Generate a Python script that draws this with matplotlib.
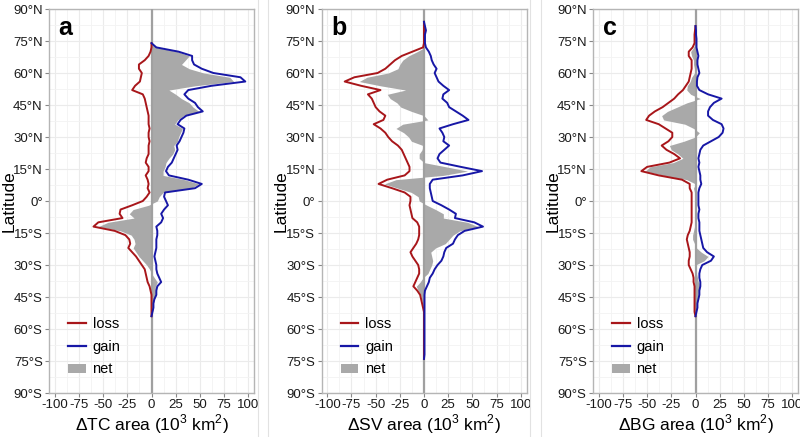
import matplotlib

matplotlib.use("Agg")
import matplotlib.pyplot as plt
import numpy as np
from matplotlib.lines import Line2D
from matplotlib.patches import Patch

plt.rcParams["font.family"] = ["Liberation Sans", "DejaVu Sans"]
plt.rcParams["mathtext.fontset"] = "custom"
plt.rcParams["mathtext.rm"] = "Liberation Sans"

# %%
# Data (10^3 km^2 per latitude band)

tc_lat = np.arange(74, -56, -2)
tc_gain = [0, 5, 28, 42, 42, 44, 52, 64, 92, 97, 62, 38, 34, 38, 45, 48, 53, 36, 30, 27,
           34, 33, 31, 29, 26, 27, 25, 23, 21, 17, 15, 18, 38, 52, 45, 14, 13, 15, 17, 13,
           10, 12, 10, 5, 6, 6, 5, 5, 5, 4, 3, 4, 5, 5, 6, 8, 10, 6, 5, 5, 3, 2, 2, 1, 0]
tc_loss = [0, 0, -1, -3, -7, -13, -13, -10, -11, -12, -17, -20, -9, -7, -6, -5, -4, -3, -3, -3,
           -2, -3, -3, -2, -3, -3, -3, -5, -6, -3, -3, -6, -4, -3, -4, -2, -5, -9, -20, -32,
           -33, -30, -55, -60, -38, -27, -23, -22, -24, -20, -16, -13, -10, -7, -6, -5, -4, -2, -1, 0,
           0, 0, 0, 0, 0]

sv_lat = np.arange(84, -76, -2)
sv_gain = [0, 1, 2, 1, 1, 1, 2, 5, 7, 8, 10, 13, 11, 13, 15, 20, 26, 20, 19, 24,
           26, 33, 40, 46, 30, 16, 19, 21, 20, 26, 21, 16, 14, 17, 38, 60, 40, 9, 6, 6,
           7, 8, 9, 18, 26, 33, 32, 52, 61, 42, 35, 32, 30, 23, 21, 20, 18, 14, 11, 9,
           6, 5, 3, 1, 0.5, 0.5, 0.5, 0.5, 0.5, 0.5, 0.5, 0.5, 0.5, 0.5, 0.5, 0.5, 0.5, 0.5, 0.5, 0]
sv_loss = [0, 0, 0, 0, 0, 0, -1, -12, -23, -30, -35, -40, -48, -72, -82, -65, -45, -58, -54, -52,
           -50, -46, -40, -42, -52, -45, -40, -37, -33, -27, -23, -21, -19, -17, -15, -15, -20, -38, -47, -33,
           -20, -14, -14, -15, -14, -13, -12, -7, -5, -5, -5, -6, -8, -11, -14, -12, -9, -6, -5, -5,
           -7, -9, -11, -7, -4, -3, -2, -1, 0, 0, 0, 0, 0, 0, 0, 0, 0, 0, 0, 0]

bg_lat = np.arange(82, -56, -2)
bg_gain = [0, 0.5, 0.5, 1, 1, 1, 2, 3, 2, 2, 3, 4, 2, 1.5, 1.5, 4, 13, 27, 19, 15,
           13, 13, 18, 27, 29, 28, 24, 16, 8, 5, 4, 3, 4, 3, 4, 5, 5, 6, 4, 3,
           3, 3, 3, 4, 3, 3, 4, 4, 4, 5, 6, 7, 8, 12, 19, 16, 7, 5, 4, 4,
           5, 5, 4, 4, 3, 2, 2, 1, 0]
bg_loss = [0, -0.5, -1, -1, -1, -3, -7, -7, -4, -4, -4, -5, -6, -7, -10, -13, -18, -22, -28, -34,
           -42, -48, -51, -38, -31, -24, -24, -28, -35, -30, -22, -16, -27, -50, -56, -38, -14, -6, -6, -4,
           -4, -4, -4, -4, -4, -4, -4, -5, -6, -8, -9, -8, -7, -6, -6, -7, -7, -5, -3, -2,
           -2, -1, -1, -1, -1, -1, -1, -1, 0]

panels = [
    ("a", r"$\Delta$TC area (10$^3$ km$^2$)", tc_lat, tc_gain, tc_loss),
    ("b", r"$\Delta$SV area (10$^3$ km$^2$)", sv_lat, sv_gain, sv_loss),
    ("c", r"$\Delta$BG area (10$^3$ km$^2$)", bg_lat, bg_gain, bg_loss),
]

lat_ticks = np.arange(90, -91, -15)
lat_labels = [f"{abs(v)}°N" if v > 0 else (f"{abs(v)}°S" if v < 0 else "0°") for v in lat_ticks]
x_ticks = np.arange(-100, 101, 25)

red = "#a8161a"
blue = "#1717a6"
grey_fill = "#a9a9a9"

# %%

fig = plt.figure(figsize=(8, 4.37), dpi=100)
lefts = [49, 321.5, 593]

for left, (letter, xlabel, lat, gain, loss) in zip(lefts, panels):
    ax = fig.add_axes([left / 800, 1 - 393 / 437, 205 / 800, 384 / 437])
    gain = np.asarray(gain, dtype=float)
    loss = np.asarray(loss, dtype=float)
    net = gain + loss

    ax.fill_betweenx(lat, 0, net, color=grey_fill, lw=0, zorder=2)
    ax.axvline(0, color="#a0a0a0", lw=1.6, zorder=3)
    ax.plot(loss, lat, color=red, lw=1.4, zorder=4)
    ax.plot(gain, lat, color=blue, lw=1.4, zorder=4)

    ax.set_xlim(-106, 106)
    ax.set_ylim(-90, 90)
    ax.set_xticks(x_ticks)
    ax.set_xticklabels([str(v) for v in x_ticks])
    ax.set_yticks(lat_ticks)
    ax.set_yticklabels(lat_labels)
    ax.set_xticks(np.arange(-87.5, 100, 25), minor=True)
    ax.set_yticks(np.arange(82.5, -90, -15), minor=True)
    ax.grid(which="major", color="#ebebeb", lw=0.8)
    ax.grid(which="minor", color="#f3f3f3", lw=0.6)
    ax.set_axisbelow(True)
    ax.tick_params(which="major", length=3, color="#888888", labelsize=9.5,
                   labelcolor="#1a1a1a", pad=1.5)
    ax.tick_params(which="minor", length=0)
    for sp in ax.spines.values():
        sp.set_color("#b5b5b5")
        sp.set_linewidth(1.0)

    ax.set_xlabel(xlabel, fontsize=12.5, labelpad=0.5)
    ax.set_ylabel("Latitude", fontsize=12.5)
    ax.yaxis.set_label_coords(-0.158, 0.5)
    ax.text(-96, 81, letter, fontsize=18, fontweight="bold", ha="left", va="center")

    handles = [
        Line2D([], [], color=red, lw=1.6),
        Line2D([], [], color=blue, lw=1.6),
        Patch(facecolor=grey_fill, edgecolor="none"),
    ]
    ax.legend(handles, ["loss", "gain", "net"], loc="upper left",
              bbox_to_anchor=(0.095, 0.198), frameon=False, fontsize=10.5,
              handlelength=1.2, handleheight=0.6, handletextpad=0.45,
              labelspacing=0.6, borderpad=0, borderaxespad=0)

# thin frame lines between panels
for xpx in [258, 268, 530, 541]:
    fig.add_artist(Line2D([xpx / 800, xpx / 800], [0, 1], color="#e2e2e2", lw=0.8))

fig.savefig("out.png", dpi=100)
